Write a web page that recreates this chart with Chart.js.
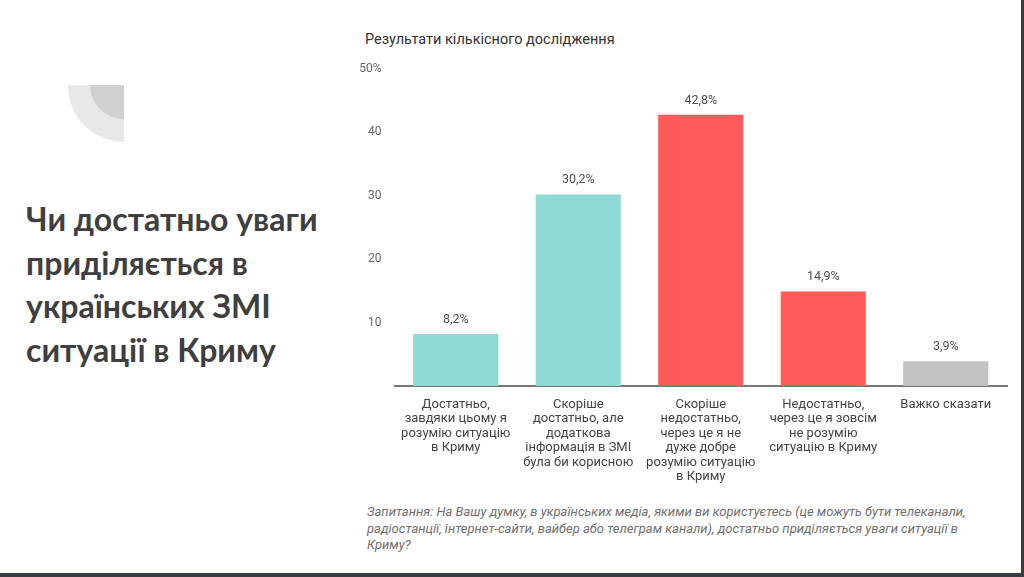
<!DOCTYPE html>
<html>
<head>
<meta charset="utf-8">
<script src="https://cdn.jsdelivr.net/npm/chart.js@4.4.0/dist/chart.umd.min.js"></script>
<style>
  html, body { margin: 0; padding: 0; background: #fff; }
  body { width: 1024px; height: 577px; position: relative; overflow: hidden; }
  #decor { position: absolute; left: 68px; top: 85px; width: 56px; height: 57px;
           background: #e8e8e8; border-bottom-left-radius: 56px; }
  #decor2 { position: absolute; left: 90px; top: 85px; width: 34px; height: 34px;
            background: #d1d1d1; border-bottom-left-radius: 34px; }
  #heading { position: absolute; left: 26px; top: 197px; margin: 0;
             font-family: Lato, "Open Sans", sans-serif; font-weight: bold;
             font-size: 32px; line-height: 43.5px; color: #3f3f3f; }
  #chartTitle { position: absolute; left: 365px; top: 31px;
                font-family: Roboto, sans-serif; font-size: 14.5px; color: #333; }
  #note { position: absolute; left: 367px; top: 504px;
          font-family: Roboto, sans-serif; font-style: italic; font-size: 13px;
          line-height: 16.5px; color: #707070; }
  #wrap { position: absolute; left: 350px; top: 0; width: 672px; height: 490px; }
  #rightEdge { position: absolute; left: 1021px; top: 0; width: 3px; height: 577px; background: #3a3d40; }
  #bottomEdge { position: absolute; left: 0; top: 573px; width: 1024px; height: 4px; background: #3a3d40; }
</style>
</head>
<body>
<div id="decor"></div>
<div id="decor2"></div>
<h1 id="heading">Чи достатньо уваги<br>приділяється в<br>українських ЗМІ<br>ситуації в Криму</h1>
<div id="chartTitle">Результати кількісного дослідження</div>
<div id="wrap"><canvas id="chart"></canvas></div>
<div id="note">Запитання: На Вашу думку, в українських медіа, якими ви користуєтесь (це можуть бути телеканали,<br>радіостанції, інтернет-сайти, вайбер або телеграм канали), достатньо приділяється уваги ситуації в<br>Криму?</div>
<div id="rightEdge"></div>
<div id="bottomEdge"></div>
<script>
// Категорії (рядки підписів)
const categories = [
    ["Достатньо,", "завдяки цьому я", "розумію ситуацію", "в Криму"],
    ["Скоріше", "достатньо, але", "додаткова", "інформація в ЗМІ", "була би корисною"],
    ["Скоріше", "недостатньо,", "через це я не", "дуже добре", "розумію ситуацію", "в Криму"],
    ["Недостатньо,", "через це я зовсім", "не розумію", "ситуацію в Криму"],
    ["Важко сказати"]
];
const values = [8.2, 30.2, 42.8, 14.9, 3.9];
const barColors = ["#8ed9d3", "#8ed9d3", "#ff5a5a", "#ff5a5a", "#c2c2c2"];
const yTicks = [0, 10, 20, 30, 40, 50];

// Підписи значень над стовпчиками
const valueLabels = {
    id: "valueLabels",
    afterDatasetsDraw(chart) {
        const ctx = chart.ctx;
        const meta = chart.getDatasetMeta(0);
        ctx.save();
        ctx.font = "12.5px Roboto, sans-serif";
        ctx.fillStyle = "#505050";
        ctx.textAlign = "center";
        ctx.textBaseline = "bottom";
        meta.data.forEach((bar, i) => {
            ctx.fillText(values[i].toFixed(1).replace(".", ",") + "%", bar.x, bar.y - 8);
        });
        ctx.restore();
    }
};

const ctx = document.getElementById("chart").getContext("2d");
new Chart(ctx, {
    type: "bar",
    data: {
        labels: categories,
        datasets: [{
            data: values,
            backgroundColor: barColors,
            borderWidth: 0,
            categoryPercentage: 1,
            barPercentage: 0.695
        }]
    },
    options: {
        responsive: true,
        maintainAspectRatio: false,
        animation: false,
        layout: { padding: { top: 69, right: 15, left: 0, bottom: 0 } },
        plugins: {
            legend: { display: false },
            tooltip: { enabled: false }
        },
        scales: {
            x: {
                grid: { display: false },
                border: { display: true, color: "#777", width: 2 },
                ticks: {
                    color: "#444",
                    font: { family: "Roboto, sans-serif", size: 13, lineHeight: 1.12 },
                    maxRotation: 0,
                    autoSkip: false,
                    padding: 3
                },
                afterFit(axis) { axis.height = 104; }
            },
            y: {
                min: yTicks[0],
                max: yTicks[yTicks.length - 1],
                grid: { display: false },
                border: { display: false },
                afterBuildTicks(axis) { axis.ticks = yTicks.map(v => ({ value: v })); },
                ticks: {
                    color: "#666",
                    font: { family: "Roboto, sans-serif", size: 12 },
                    padding: 5,
                    callback: (v) => v === 0 ? "" : (v === 50 ? "50%" : v)
                },
                afterFit(axis) { axis.width = 44.5; }
            }
        }
    },
    plugins: [valueLabels]
});
</script>
</body>
</html>
